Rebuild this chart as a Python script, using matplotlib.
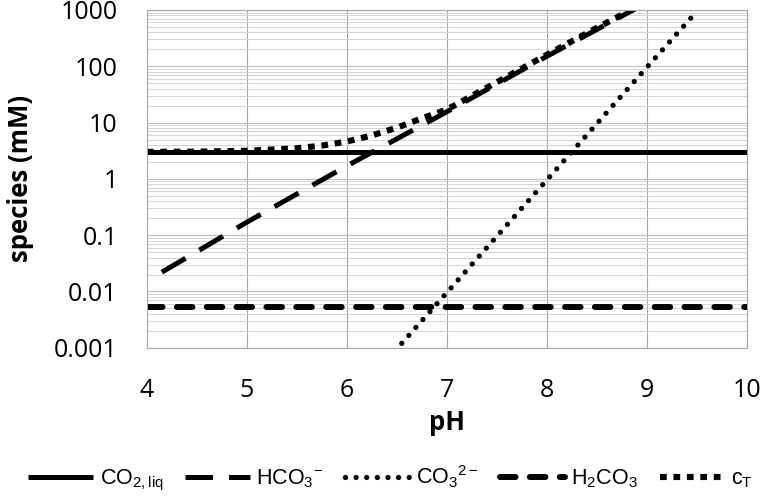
import numpy as np
import matplotlib
matplotlib.use("Agg")
import matplotlib.pyplot as plt
from matplotlib.ticker import FixedLocator, LogLocator, NullFormatter

plt.rcParams['font.family'] = ['Open Sans', 'DejaVu Sans']
plt.rcParams['mathtext.fontset'] = 'custom'
plt.rcParams['mathtext.rm'] = 'Liberation Sans'
plt.rcParams['mathtext.default'] = 'rm'

# values (pH vs. mM)
ph_co2 = [4, 10]
co2_liq = [3.0, 3.0]

ph_h2co3 = [4, 10]
h2co3 = [0.0052, 0.0052]

ph_hco3 = [4.15, 5, 6, 7, 8, 8.9]
hco3 = [0.022, 0.17, 1.7, 15.5, 150, 1080]

ph_co3 = [6.55, 7, 8, 9, 9.46]
co3 = [0.0012, 0.0095, 0.95, 95, 780]

ph_ct = [4, 4.5, 5, 5.5, 5.75, 6, 6.25, 6.5, 6.75, 7, 7.5, 8, 8.5, 8.9]
c_t = [3.02, 3.05, 3.16, 3.5, 3.9, 4.6, 5.9, 8.1, 11.9, 17, 52, 160, 480, 1130]

y_ticks = [0.001, 0.01, 0.1, 1, 10, 100, 1000]
y_labels = ['0.001', '0.01', '0.1', '1', '10', '100', '1000']

fig = plt.figure(figsize=(7.81, 4.99), dpi=100)
ax = fig.add_axes([0.188, 0.303, 0.768, 0.677])

ax.plot(ph_co2, co2_liq, color='black', lw=3.6, solid_capstyle='butt',
        label=r'CO$_{2,liq}$')
ax.plot(ph_hco3, hco3, color='black', lw=3.6, dash_capstyle='butt',
        dashes=(5.5, 3.2), label=r'HCO$_3$$^{-}$')
ax.plot(ph_co3, co3, color='black', lw=3.8, dash_capstyle='round',
        dashes=(0.01, 2.0), label=r'CO$_3$$^{2-}$')
ax.plot(ph_h2co3, h2co3, color='black', lw=4.3, dash_capstyle='round',
        dashes=(2.6, 2.4), label=r'H$_2$CO$_3$')
ax.plot(ph_ct, c_t, color='black', lw=4.4, dash_capstyle='butt',
        dashes=(1.1, 1.1), label=r'c$_T$')

ax.set_yscale('log')
ax.set_xlim(4, 10)
ax.set_ylim(0.001, 1000)
ax.set_xticks(range(4, 11))
ax.yaxis.set_major_locator(FixedLocator(y_ticks))
ax.set_yticklabels(y_labels)
ax.yaxis.set_minor_locator(LogLocator(base=10, subs=np.arange(2, 10)))
ax.yaxis.set_minor_formatter(NullFormatter())

ax.grid(True, which='major', axis='x', color='#a6a6a6', lw=0.8)
ax.grid(True, which='major', axis='y', color='#c0c0c0', lw=0.8)
ax.grid(True, which='minor', axis='y', color='#d4d4d4', lw=0.7)
ax.set_axisbelow(True)
ax.tick_params(which='both', length=0, labelsize=18)
ax.tick_params(axis='y', pad=21)
ax.tick_params(axis='x', pad=22)
for s in ax.spines.values():
    s.set_color('#a6a6a6')
    s.set_linewidth(0.8)

ax.set_xlabel('pH', fontsize=18.5, fontweight='bold', labelpad=4)
ax.set_ylabel('species (mM)', fontsize=18.5, fontweight='bold', labelpad=14)

leg = fig.legend(loc='center', bbox_to_anchor=(0.5, 0.042), ncol=5,
                 frameon=False, handlelength=3.0, columnspacing=1.0,
                 handletextpad=0.3,
                 prop={'family': ['Liberation Sans'], 'size': 15.5})

fig.savefig('out.png', dpi=100)
